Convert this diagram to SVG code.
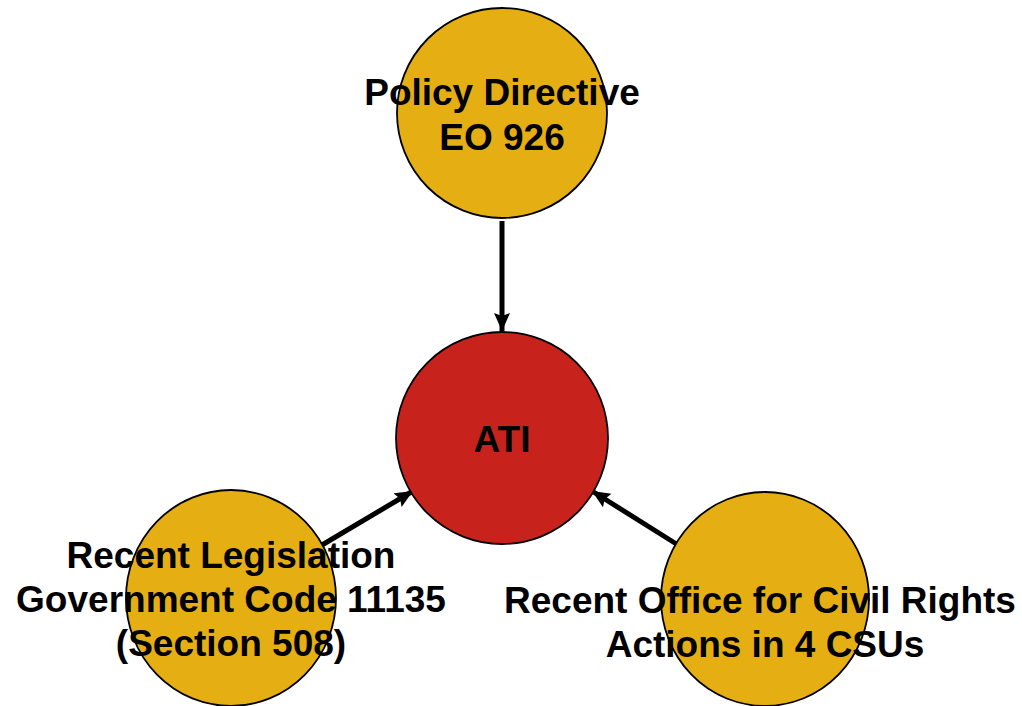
<svg xmlns="http://www.w3.org/2000/svg" width="1022" height="706" viewBox="0 0 1022 706">
<defs>
<style>
.gold{fill:#E5AF14;stroke:#000;stroke-width:1.8}
.red{fill:#C8221C;stroke:#000;stroke-width:1.8}
.lbl{font-family:"Liberation Sans",Arial,sans-serif;font-weight:bold;font-size:37px;fill:#000;text-anchor:middle}
.conn{stroke:#000;stroke-width:5;fill:none;marker-end:url(#ah)}
</style>
<marker id="ah" markerUnits="userSpaceOnUse" markerWidth="20" markerHeight="18" refX="18" refY="8" orient="auto" viewBox="0 0 20 18">
<path d="M0,0 L18,8 L0,16 L3,8 z" fill="#000"/>
</marker>
</defs>
<rect width="1022" height="706" fill="#fff"/>
<g id="connectors">
<line class="conn" x1="502" y1="221" x2="502" y2="331"/>
<line class="conn" x1="322" y1="545" x2="413" y2="491"/>
<line class="conn" x1="678" y1="545" x2="592" y2="491"/>
</g>
<g id="node-policy">
<circle class="gold" cx="502" cy="113" r="105"/>
<text class="lbl" x="502" y="105">Policy Directive</text>
<text class="lbl" x="502" y="150">EO 926</text>
</g>
<g id="node-ati">
<circle class="red" cx="502" cy="438" r="106"/>
<text class="lbl" x="502" y="452">ATI</text>
</g>
<g id="node-legislation">
<ellipse class="gold" cx="231" cy="598" rx="105" ry="108"/>
<text class="lbl" x="231" y="568">Recent Legislation</text>
<text class="lbl" x="231" y="612">Government Code 11135</text>
<text class="lbl" x="231" y="656">(Section 508)</text>
</g>
<g id="node-ocr">
<ellipse class="gold" cx="765" cy="599" rx="104" ry="107"/>
<text class="lbl" x="760" y="613">Recent Office for Civil Rights</text>
<text class="lbl" x="765" y="657">Actions in 4 CSUs</text>
</g>
</svg>
